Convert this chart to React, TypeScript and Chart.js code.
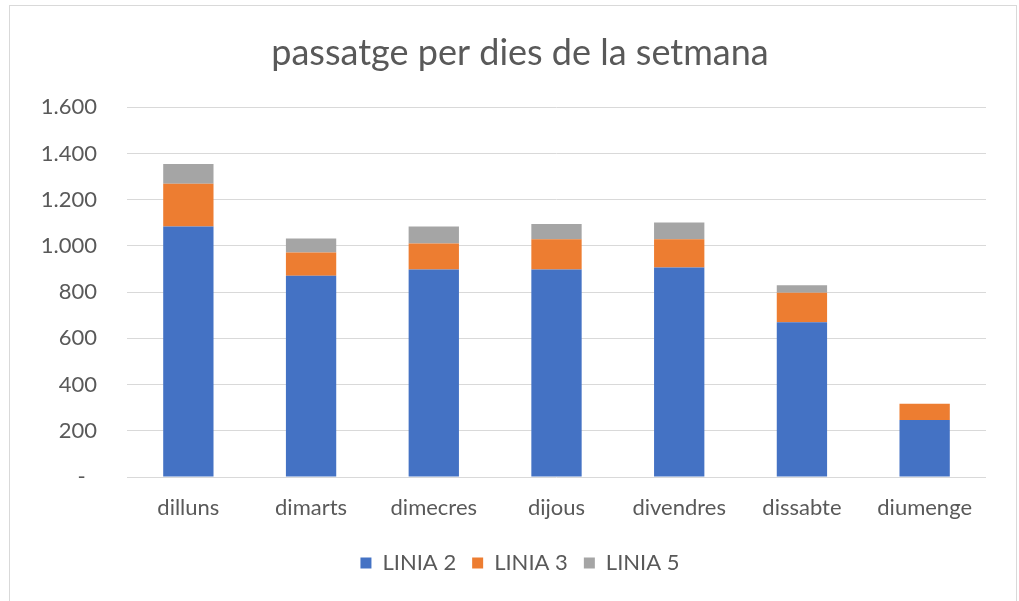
import React, { useEffect, useRef } from "react";
import { Chart, registerables } from "chart.js";

Chart.register(...registerables);

const categories = ["dilluns", "dimarts", "dimecres", "dijous", "divendres", "dissabte", "diumenge"];
const linia2 = [1084, 871, 898, 898, 906, 670, 247];
const linia3 = [185, 100, 112, 131, 123, 127, 70];
const linia5 = [85, 61, 74, 66, 72, 33, 0];
const seriesNames = ["LINIA 2", "LINIA 3", "LINIA 5"];
const titleText = "passatge per dies de la setmana";
const yMax = 1600;
const yStep = 200;

const FONT = "Lato, 'Open Sans', sans-serif";
const TEXT = "#595959";
const GRID = "#d9d9d9";

function fmt(v: number): string {
  if (v === 0) return "-  ";
  return String(v).replace(/\B(?=(\d{3})+(?!\d))/g, ".");
}

export default function App() {
  const ref = useRef<HTMLCanvasElement | null>(null);
  useEffect(() => {
    if (!ref.current) return;
    const chart = new Chart(ref.current, {
      type: "bar",
      data: {
        labels: categories,
        datasets: [
          { label: seriesNames[0], data: linia2, backgroundColor: "#4472C4" },
          { label: seriesNames[1], data: linia3, backgroundColor: "#ED7D31" },
          { label: seriesNames[2], data: linia5, backgroundColor: "#A5A5A5" },
        ],
      },
      options: {
        animation: false,
        responsive: true,
        maintainAspectRatio: false,
        layout: { padding: { left: 14, right: 0, top: 0, bottom: 20 } },
        datasets: { bar: { categoryPercentage: 1, barPercentage: 0.41, borderWidth: 0 } },
        scales: {
          x: {
            stacked: true,
            grid: { display: false, drawTicks: false },
            border: { display: false },
            ticks: { color: TEXT, font: { family: FONT, size: 22 }, padding: 18, maxRotation: 0 },
            afterFit: (s: any) => { s.height = 59; },
          },
          y: {
            stacked: true,
            min: 0,
            max: yMax,
            grid: { color: GRID, lineWidth: 1, drawTicks: false },
            border: { display: false },
            ticks: {
              stepSize: yStep,
              color: TEXT,
              font: { family: FONT, size: 22 },
              padding: 30,
              callback: (v: any) => fmt(Number(v)),
            },
            afterFit: (s: any) => { s.width = 103; },
          },
          yr: {
            type: "linear",
            position: "right",
            display: true,
            grid: { display: false, drawTicks: false },
            border: { display: false },
            ticks: { display: false },
            afterFit: (s: any) => { s.width = 30; },
          },
        },
        plugins: {
          title: {
            display: true,
            text: titleText,
            color: TEXT,
            font: { family: FONT, size: 36, weight: "normal" },
            padding: { top: 26, bottom: 32 },
          },
          legend: {
            position: "bottom",
            labels: {
              color: TEXT,
              font: { family: FONT, size: 22 },
              boxWidth: 11,
              boxHeight: 11,
              padding: 16,
            },
          },
          tooltip: { enabled: false },
        },
      },
    });
    return () => chart.destroy();
  }, []);
  return (
    <div
      style={{
        position: "absolute",
        left: 9,
        top: 5,
        width: 1008,
        height: 600,
        border: "1px solid #d9d9d9",
        boxSizing: "border-box",
        background: "#fff",
      }}
    >
      <div style={{ position: "relative", width: "100%", height: "100%" }}>
        <canvas ref={ref} />
      </div>
    </div>
  );
}
